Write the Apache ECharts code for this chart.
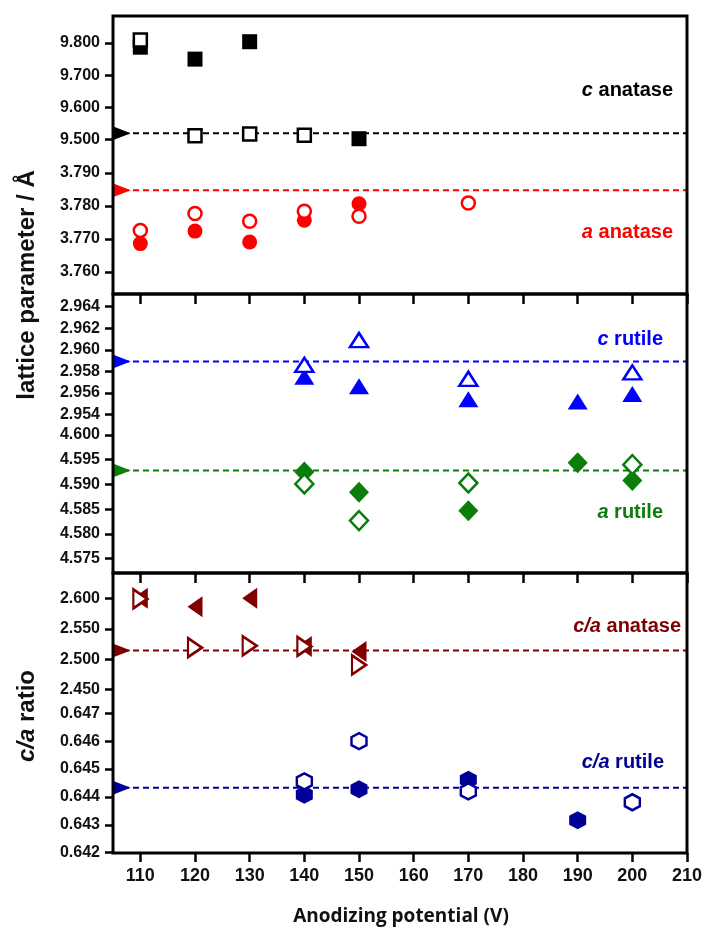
<!DOCTYPE html>
<html><head><meta charset="utf-8">
<script src="https://cdn.jsdelivr.net/npm/echarts@6/dist/echarts.min.js"></script>
<style>html,body{margin:0;padding:0;background:#fff}#c{width:705px;height:928px}</style>
</head><body><div id="c"></div>
<script>
// ---------- data ----------
const xTicks = [110,120,130,140,150,160,170,180,190,200,210];
const yTicks1U = [9.5,9.6,9.7,9.8];
const yTicks1L = [3.76,3.77,3.78,3.79];
const yTicks2U = [2.954,2.956,2.958,2.960,2.962,2.964];
const yTicks2L = [4.575,4.580,4.585,4.590,4.595,4.600];
const yTicks3U = [2.45,2.50,2.55,2.60];
const yTicks3L = [0.642,0.643,0.644,0.645,0.646,0.647];

// c anatase (squares)
const cAnaFilledX = [110,120,130,150];
const cAnaFilled  = [9.787,9.750,9.804,9.503];
const cAnaOpenX   = [110,120,130,140];
const cAnaOpen    = [9.809,9.512,9.518,9.514];
const cAnaRef = 9.5198;
// a anatase (circles)
const aAnaFilledX = [110,120,130,140,150];
const aAnaFilled  = [3.7686,3.7724,3.7691,3.7757,3.7807];
const aAnaOpenX   = [110,120,130,140,150,170];
const aAnaOpen    = [3.7726,3.7777,3.7754,3.7784,3.7769,3.7809];
const aAnaRef = 3.7848;
// c rutile (triangles)
const cRutFilledX = [140,150,170,190,200];
const cRutFilled  = [2.9575,2.9566,2.9554,2.9552,2.9559];
const cRutOpenX   = [140,150,170,200];
const cRutOpen    = [2.9586,2.9609,2.9573,2.9579];
const cRutRef = 2.9589;
// a rutile (diamonds)
const aRutFilledX = [140,150,170,190,200];
const aRutFilled  = [4.5925,4.5884,4.5847,4.5944,4.5908];
const aRutOpenX   = [140,150,170,200];
const aRutOpen    = [4.5901,4.5827,4.5903,4.5940];
const aRutRef = 4.5928;
// c/a anatase (left filled / right open triangles)
const caAnaFilledX = [110,120,130,140,150];
const caAnaFilled  = [2.600,2.586,2.600,2.521,2.5125];
const caAnaOpenX   = [110,120,130,140,150];
const caAnaOpen    = [2.599,2.519,2.522,2.521,2.4906];
const caAnaRef = 2.5141;
// c/a rutile (hexagons)
const caRutFilledX = [140,150,170,190];
const caRutFilled  = [0.64408,0.64428,0.64462,0.64316];
const caRutOpenX   = [140,150,170,200];
const caRutOpen    = [0.64456,0.64600,0.64420,0.64381];
const caRutRef = 0.64433;

const refX = [105,210];
const refMarkX = 106.6;

// ---------- helpers ----------
const zip = (xs, ys) => xs.map((x,i)=>[x, ys[i]]);
const HEX = 'path://M0,-1 L0.866,-0.5 L0.866,0.5 L0,1 L-0.866,0.5 L-0.866,-0.5 Z';
const LBL = {fontFamily:'Liberation Sans, Arial, sans-serif', fontWeight:'bold', color:'#111'};

const L = 113, R = 18, W = 574;
const grids = [
  {top:16,    height:140,   min:9.4494, max:9.8838, ticks:yTicks1U, dec:3},
  {top:156,   height:138,   min:3.75333, max:3.79515, ticks:yTicks1L, dec:3},
  {top:294,   height:130.7, min:2.95304, max:2.96518, ticks:yTicks2U, dec:3},
  {top:424.7, height:148.3, min:4.57210, max:4.60208, ticks:yTicks2L, dec:3},
  {top:573,   height:128.5, min:2.4306, max:2.6415, ticks:yTicks3U, dec:3},
  {top:701.5, height:151.5, min:0.64199, max:0.647423, ticks:yTicks3L, dec:3}
];

const option = {
  animation:false,
  backgroundColor:'#fff',
  grid: grids.map(g=>({left:L, width:W, top:g.top, height:g.height, containLabel:false})),
  xAxis: grids.map((g,i)=>({
    type:'value', gridIndex:i, min:105, max:210,
    axisLine:{show:false}, splitLine:{show:false},
    axisTick:{show: i%2===1, length: i===5?9:10, inside:false, customValues:xTicks, lineStyle:{color:'#000', width:2.5}},
    axisLabel:{show: i===5, customValues:xTicks, margin:14, fontSize:18, ...LBL}
  })),
  yAxis: grids.map((g,i)=>({
    type:'value', gridIndex:i, min:g.min, max:g.max,
    axisLine:{show:false}, splitLine:{show:false},
    axisTick:{show:true, length:8, customValues:g.ticks, lineStyle:{color:'#000', width:2.5}},
    axisLabel:{show:true, customValues:g.ticks, margin:13, fontSize:16, ...LBL, formatter:v=>Number(v).toFixed(g.dec)}
  })),
  series: [],
  graphic: []
};

function addGroup(gi, color, refVal, filledX, filled, openX, open, sym) {
  const s = option.series;
  s.push({type:'line', xAxisIndex:gi, yAxisIndex:gi, data:zip(refX,[refVal,refVal]), showSymbol:false, silent:true,
          lineStyle:{color, width:2, type:[6,4]}, z:1});
  s.push({type:'scatter', xAxisIndex:gi, yAxisIndex:gi, data:[[refMarkX, refVal]], symbol:'triangle', symbolSize:[14,18], symbolRotate:-90,
          itemStyle:{color, opacity:1}, z:2, clip:false});
  s.push({type:'scatter', xAxisIndex:gi, yAxisIndex:gi, data:zip(filledX,filled), symbol:sym.fs, symbolSize:sym.fsize, symbolRotate:sym.frot||0,
          itemStyle:{color, opacity:1}, z:3, clip:false});
  s.push({type:'scatter', xAxisIndex:gi, yAxisIndex:gi, data:zip(openX,open), symbol:sym.os, symbolSize:sym.osize, symbolRotate:sym.orot||0,
          itemStyle:{color:'#fff', borderColor:color, borderWidth:2.5, opacity:1}, z:4, clip:false});
}

const C_BLACK='#000000', C_RED='#ff0000', C_BLUE='#0000ff', C_GREEN='#0b7d0b', C_MAROON='#800000', C_NAVY='#000099';

addGroup(0, C_BLACK, cAnaRef, cAnaFilledX, cAnaFilled, cAnaOpenX, cAnaOpen, {fs:'rect', fsize:15, os:'rect', osize:13});
addGroup(1, C_RED, aAnaRef, aAnaFilledX, aAnaFilled, aAnaOpenX, aAnaOpen, {fs:'circle', fsize:15, os:'circle', osize:13});
addGroup(2, C_BLUE, cRutRef, cRutFilledX, cRutFilled, cRutOpenX, cRutOpen, {fs:'triangle', fsize:[20,16], os:'triangle', osize:[18,14]});
addGroup(3, C_GREEN, aRutRef, aRutFilledX, aRutFilled, aRutOpenX, aRutOpen, {fs:'diamond', fsize:[20,21], os:'diamond', osize:[18,19]});
addGroup(4, C_MAROON, caAnaRef, caAnaFilledX, caAnaFilled, caAnaOpenX, caAnaOpen, {fs:'triangle', fsize:[21,15], frot:90, os:'triangle', osize:[19,14], orot:-90});
addGroup(5, C_NAVY, caRutRef, caRutFilledX, caRutFilled, caRutOpenX, caRutOpen, {fs:HEX, fsize:[17,18], os:HEX, osize:[15,16]});

// panel frames
[[16,278],[294,279],[573,280]].forEach(([t,h])=>{
  option.graphic.push({type:'rect', shape:{x:L, y:t, width:W, height:h}, style:{fill:'none', stroke:'#000', lineWidth:3}, z:100, silent:true});
});

function richLabel(x, y, it, rest, color, align) {
  option.graphic.push({type:'text', x, y, z:50, silent:true, style:{
    text:'{i|'+it+'}{b|'+rest+'}', align:align||'right', verticalAlign:'middle',
    rich:{ i:{fontFamily:'Liberation Sans, Arial', fontWeight:'bold', fontStyle:'italic', fontSize:20, fill:color},
           b:{fontFamily:'Liberation Sans, Arial', fontWeight:'bold', fontSize:20, fill:color} }
  }});
}
richLabel(673, 90, 'c', ' anatase', C_BLACK);
richLabel(673, 232, 'a', ' anatase', C_RED);
richLabel(663, 339, 'c', ' rutile', C_BLUE);
richLabel(663, 512, 'a', ' rutile', C_GREEN);
richLabel(681, 626, 'c/a', ' anatase', C_MAROON);
richLabel(664, 762, 'c/a', ' rutile', C_NAVY);

// axis titles
option.graphic.push({type:'text', x:27, y:285, rotation:Math.PI/2, silent:true, style:{
  text:'lattice parameter / Å', align:'center', verticalAlign:'middle',
  font:'bold 24px "Liberation Sans", Arial', fill:'#111'}});
option.graphic.push({type:'text', x:27, y:716, rotation:Math.PI/2, silent:true, style:{
  text:'{i|c/a}{b| ratio}', align:'center', verticalAlign:'middle',
  rich:{ i:{fontFamily:'Liberation Sans, Arial', fontWeight:'bold', fontStyle:'italic', fontSize:24, fill:'#111'},
         b:{fontFamily:'Liberation Sans, Arial', fontWeight:'bold', fontSize:24, fill:'#111'} }}});
option.graphic.push({type:'text', x:401, y:917, silent:true, style:{
  text:'Anodizing potential (V)', align:'center', verticalAlign:'middle',
  font:'bold 19px "Open Sans", Arial', fill:'#111'}});

const chart = echarts.init(document.getElementById('c'), null, {renderer:'canvas'});
chart.setOption(option);
</script></body></html>
